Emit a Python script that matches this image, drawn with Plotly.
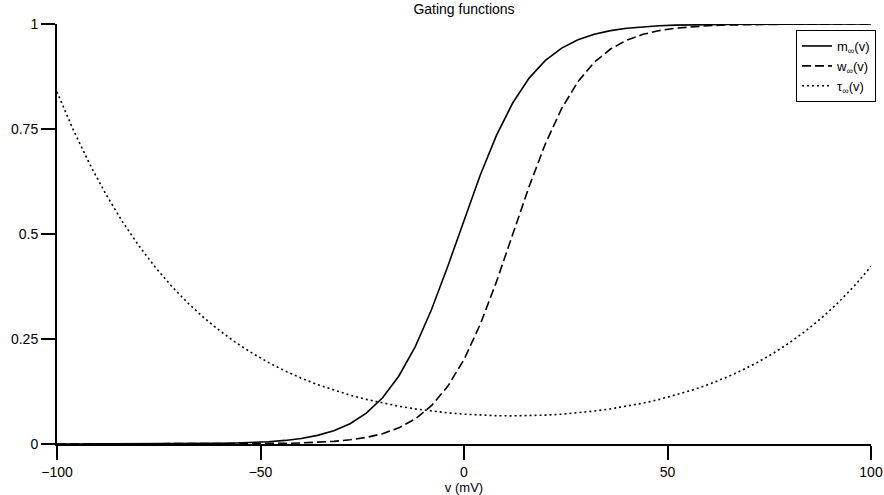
import plotly.graph_objects as go

v = list(range(-100, 101, 4))

m_inf = [1.71e-5, 2.67e-5, 4.16e-5, 6.49e-5, 1.01e-4, 1.58e-4, 2.46e-4, 3.83e-4, 5.98e-4, 9.31e-4,
         1.452e-3, 2.263e-3, 3.526e-3, 5.486e-3, 8.53e-3, 0.01325, 0.02049, 0.0316, 0.0484, 0.0736,
         0.1102, 0.1619, 0.2315, 0.3196, 0.4228, 0.5333, 0.6406, 0.7354, 0.8126, 0.8712,
         0.9134, 0.9427, 0.9625, 0.9756, 0.9842, 0.9898, 0.99345, 0.99579, 0.9973, 0.99826,
         0.99889, 0.99929, 0.99954, 0.99971, 0.99981, 0.99988, 0.99992, 0.99995, 0.99997, 0.99998,
         0.99999]

w_inf = [2.6e-6, 4.1e-6, 6.4e-6, 1.02e-5, 1.61e-5, 2.56e-5, 4.05e-5, 6.41e-5, 1.015e-4, 1.61e-4,
         2.55e-4, 4.03e-4, 6.38e-4, 1.010e-3, 1.598e-3, 2.529e-3, 4.00e-3, 6.32e-3, 9.97e-3, 0.0157,
         0.0246, 0.0385, 0.0596, 0.0912, 0.1372, 0.2011, 0.2851, 0.3870, 0.5, 0.6130,
         0.7149, 0.7989, 0.8628, 0.9088, 0.9404, 0.9615, 0.9754, 0.9843, 0.9900, 0.99368,
         0.9960, 0.99747, 0.9984, 0.99899, 0.99936, 0.9996, 0.99975, 0.99984, 0.9999, 0.99994,
         0.99996]

tau_inf = [0.8385, 0.7477, 0.6669, 0.5948, 0.5307, 0.4736, 0.4227, 0.3774, 0.3371, 0.3013,
           0.2695, 0.2412, 0.2161, 0.1938, 0.1742, 0.1568, 0.1415, 0.1281, 0.1163, 0.1062,
           0.0974, 0.0899, 0.0836, 0.0784, 0.0742, 0.0710, 0.0688, 0.0674, 0.0670, 0.0674,
           0.0688, 0.0710, 0.0742, 0.0784, 0.0836, 0.0899, 0.0974, 0.1062, 0.1163, 0.1281,
           0.1415, 0.1568, 0.1742, 0.1938, 0.2161, 0.2412, 0.2695, 0.3013, 0.3371, 0.3774,
           0.4227]

x_ticks = [-100, -50, 0, 50, 100]
y_ticks = [0, 0.25, 0.5, 0.75, 1]
y_tick_labels = ["0", "0.25", "0.5", "0.75", "1"]

FONT = "Liberation Sans, Arial, Helvetica, sans-serif"
FS = 14

fig = go.Figure()
fig.add_trace(go.Scatter(x=v, y=m_inf, mode="lines", name="m<sub>∞</sub>(v)",
                         line=dict(color="black", width=1.6, dash="solid"), cliponaxis=False))
fig.add_trace(go.Scatter(x=v, y=w_inf, mode="lines", name="w<sub>∞</sub>(v)",
                         line=dict(color="black", width=1.6, dash="9px,4px"), cliponaxis=False))
fig.add_trace(go.Scatter(x=v, y=tau_inf, mode="lines", name="τ<sub>∞</sub>(v)",
                         line=dict(color="black", width=1.6, dash="2px,3px"), cliponaxis=False))

fig.update_layout(
    width=884, height=495,
    margin=dict(l=57, r=13, t=24, b=51, autoexpand=False),
    paper_bgcolor="white", plot_bgcolor="white",
    font=dict(family=FONT, size=FS, color="black"),
    title=dict(text="Gating functions", x=(57 + 871) / 2 / 884, xanchor="center",
               y=1 - 9 / 495, yanchor="middle", yref="container",
               font=dict(family=FONT, size=FS, color="black")),
    legend=dict(x=(876 - 57) / 814, xanchor="right", y=(444 - 30) / 420, yanchor="top",
                bordercolor="black", borderwidth=1, bgcolor="white",
                font=dict(family=FONT, size=FS - 1, color="black"),
                itemwidth=30, tracegroupgap=0),
    showlegend=True,
)
fig.update_xaxes(range=[-100, 100], tickvals=x_ticks, ticks="outside", ticklen=14,
                 tickwidth=1.5, tickcolor="black", showline=True, linecolor="black",
                 linewidth=2, showgrid=False, zeroline=False, automargin=False,
                 title=dict(text="v (mV)", standoff=3, font=dict(family=FONT, size=FS - 1)),
                 tickfont=dict(family=FONT, size=FS))
fig.update_yaxes(range=[0, 1], tickvals=y_ticks, ticktext=y_tick_labels, ticks="outside",
                 ticklen=14, tickwidth=1.5, tickcolor="black", showline=True,
                 linecolor="black", linewidth=2, showgrid=False, zeroline=False,
                 automargin=False, tickfont=dict(family=FONT, size=FS))

fig.write_html("out.html", config={"displayModeBar": False},
               post_script="document.body.style.margin='0';document.documentElement.style.overflow='hidden';")
